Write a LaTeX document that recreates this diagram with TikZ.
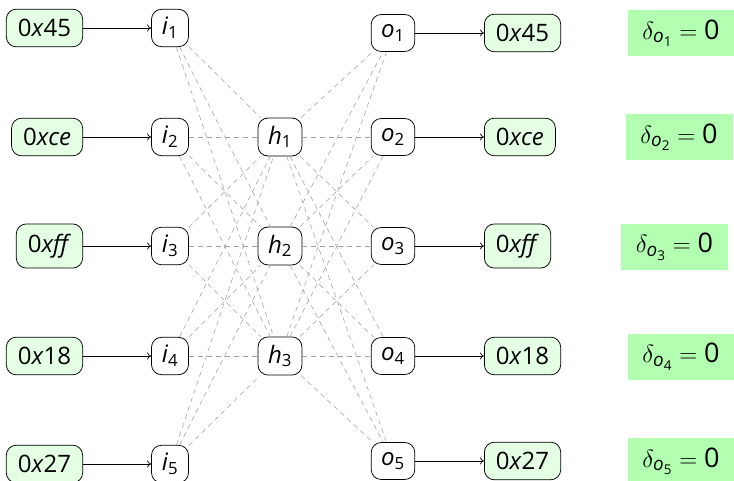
\documentclass[tikz,border=0pt]{standalone}
\usepackage{amsmath}
\usepackage{fontspec}
\setsansfont{Open Sans}
\usetikzlibrary{arrows.meta}
\begin{document}
\begin{tikzpicture}[x=1pt,y=-1pt,
  font=\sffamily\fontsize{24}{28}\selectfont,
  base/.style={draw, rounded corners=10pt, line width=0.75pt},
  val/.style={base, fill=green!10, inner xsep=11.5pt, inner ysep=10pt},
  unit/.style={base, fill=white, minimum width=37pt, minimum height=37pt, inner xsep=10pt, inner ysep=8pt},
  del/.style={fill=green!30, minimum width=107pt, minimum height=46pt, inner sep=0pt,
              font=\sffamily\fontsize{27}{30}\selectfont},
  wire/.style={-{To[length=4pt,width=7pt]}, line width=0.7pt},
  link/.style={gray!75, line width=0.55pt, dash pattern=on 5pt off 4pt}]
\useasboundingbox (0,0) rectangle (734,481);
% input values
\node[val, anchor=east] (vi1) at (83,28)  {0\textit{x}45};
\node[val, anchor=east] (vi2) at (83,137) {0\textit{xce}};
\node[val, anchor=east] (vi3) at (83,246) {0\textit{xff}};
\node[val, anchor=east] (vi4) at (83,356) {0\textit{x}18};
\node[val, anchor=east] (vi5) at (83,464) {0\textit{x}27};
% input units
\node[unit] (i1) at (170,28)  {\textit{i}$_{\text{1}}$};
\node[unit] (i2) at (170,137) {\textit{i}$_{\text{2}}$};
\node[unit] (i3) at (170,246) {\textit{i}$_{\text{3}}$};
\node[unit] (i4) at (170,356) {\textit{i}$_{\text{4}}$};
\node[unit] (i5) at (170,464) {\textit{i}$_{\text{5}}$};
% hidden units
\node[unit] (h1) at (280,137) {\textit{h}$_{\text{1}}$};
\node[unit] (h2) at (280,246) {\textit{h}$_{\text{2}}$};
\node[unit] (h3) at (280,356) {\textit{h}$_{\text{3}}$};
% output units
\node[unit] (o1) at (393,33)  {\textit{o}$_{\text{1}}$};
\node[unit] (o2) at (393,137) {\textit{o}$_{\text{2}}$};
\node[unit] (o3) at (393,246) {\textit{o}$_{\text{3}}$};
\node[unit] (o4) at (393,356) {\textit{o}$_{\text{4}}$};
\node[unit] (o5) at (393,461) {\textit{o}$_{\text{5}}$};
% output values
\node[val, anchor=west] (vo1) at (484,33)  {0\textit{x}45};
\node[val, anchor=west] (vo2) at (484,137) {0\textit{xce}};
\node[val, anchor=west] (vo3) at (484,246) {0\textit{xff}};
\node[val, anchor=west] (vo4) at (484,356) {0\textit{x}18};
\node[val, anchor=west] (vo5) at (484,461) {0\textit{x}27};
% deltas
\node[del] (d1) at (681,33)    {$\delta_{\textit{o}_{\text{1}}} = \text{0}$};
\node[del] (d2) at (679,137)   {$\delta_{\textit{o}_{\text{2}}} = \text{0}$};
\node[del] (d3) at (674.5,247) {$\delta_{\textit{o}_{\text{3}}} = \text{0}$};
\node[del] (d4) at (681,356.5) {$\delta_{\textit{o}_{\text{4}}} = \text{0}$};
\node[del] (d5) at (681,461)   {$\delta_{\textit{o}_{\text{5}}} = \text{0}$};
% links
\foreach \a in {1,...,5}{
  \foreach \b in {1,2,3}{
    \draw[link] (i\a) -- (h\b);
    \draw[link] (h\b) -- (o\a);
  }
}
% wires
\foreach \a in {1,...,5}{
  \draw[wire] (vi\a) -- (i\a);
  \draw[wire] (o\a) -- (vo\a);
}
\end{tikzpicture}
\end{document}
